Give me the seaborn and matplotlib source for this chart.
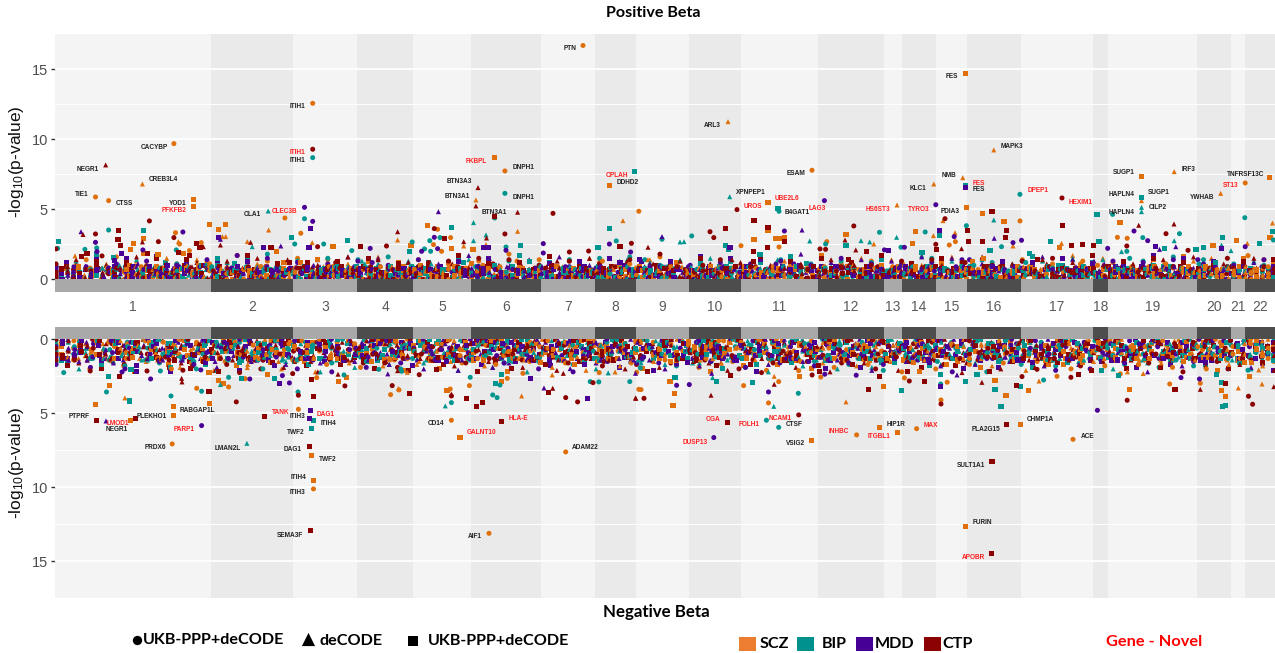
import numpy as np
import pandas as pd
import matplotlib
matplotlib.use("Agg")
import matplotlib.pyplot as plt
import seaborn as sns

# genome index runs from 55 to 1275 (genes in rank order, so chromosomes are not to physical scale)
chrom_names = [str(i) for i in range(1, 23)]
chrom_edges = [55, 211, 293, 357, 413, 471, 541, 595, 636, 689, 741, 818, 884, 902, 936, 967, 1021, 1093, 1108, 1197, 1231, 1245, 1275]

# (genome index, -log10 p), by trait and data source
top_scz_o = [(583,16.7),(312.7,12.57),(173.9,9.69),(95.5,5.88),(108.6,5.62),(284.9,4.38),(504.9,7.74),(638.8,4.86),(812,7.79),(1245.2,6.88),(1020,4.17),(300.8,3.29),(175.5,3.33),(179.6,2.52),(437.6,3.57),(450.6,2.98),(433.5,2.48),(441.6,2),(201.2,2.62),(189.4,2.05),(741,2.4),(826.8,2.69),(779,2.31),(955.4,2.69),(949.3,2.45),(1117.4,3),(1127.2,2.93),(1248,1.69)]
top_scz_s = [(193.9,5.67),(193.5,5.19),(494.3,8.69),(609.8,6.71),(965.6,14.71),(1141.5,7.36),(1269.7,7.29),(768,5.48),(966.8,5.1),(982.3,4.71),(1004,4.1),(1120,4.05),(768,3.52),(143.7,2.95),(133.9,2.55),(130.6,2.1),(144,1.86),(158,1.76),(183.3,1.86),(209.4,3.93),(218.4,3.57),(225.7,3.88),(276.3,2),(333,2.33),(411,2.4),(427.8,3.86),(451.8,2.17),(473,2.14),(754,2.86),(775.4,2.9),(781,2.88),(784.8,3),(846,3.17),(915.8,3.43),(912.6,2.55),(1059.5,2.29),(1213,2.38),(1236.6,2.74),(1270,3)]
top_scz_t = [(142.4,6.81),(475.9,5.67),(728,11.26),(993.8,9.24),(962.8,7.26),(1174.2,7.69),(933.8,6.81),(897,5.31),(943,4.19),(1141.5,5.62),(1220.7,6.14),(1272.5,4.02),(268.6,3.52),(622.9,4.19),(222.4,3.05),(225.7,3.05),(178.4,2.69),(75,1.67),(247.3,2.69),(312.2,2.62),(397.6,2.81),(463.7,2.38),(486,2.48),(517.6,3.43),(873.8,2.52),(955,3.33),(933.4,3.12),(1013,2.38),(1061.5,2.57),(1247.3,2.57)]
top_bip_o = [(312.7,8.69),(504.9,6.14),(304.5,4.33),(494.7,4.38),(1019.9,6.07),(779,4.86),(1112.6,4.64),(1244.8,4.4),(108.6,3.52),(57.6,2.21),(84.9,2.14),(96.7,2.24),(176.3,2.1),(294.7,2.52),(323.7,2.52),(351.8,2.05),(412.2,2.67),(429.8,2.76),(440,2.98),(424.5,2.17),(430.6,2),(506,2.31),(616.3,2.74),(691.7,3.1),(662,2.86),(825.6,2.52),(879.5,3.36),(901,2.29),(925.2,3.38),(966.4,3.83),(1001.5,2.33),(1126.8,2),(1142.8,2.98),(1179.5,3.26),(1273.4,2.81)]
top_bip_s = [(634.7,7.69),(965.6,6.71),(778,5.07),(1141.5,5.81),(1097,4.6),(143.3,3.52),(58.4,2.67),(96.3,1.81),(113.9,1.55),(291.4,3.02),(347.3,2.74),(409.4,2.02),(451.8,3.69),(520.4,2.4),(609.4,3.6),(598,2.29),(725.6,2.45),(728.9,2.14),(760,1.74),(846,2.43),(922,1.95),(939.5,3.1),(990,2.07),(1029.7,1.86),(1050.5,2.67),(1099,2.71),(1164.4,2.19),(1196,2.1),(1203.2,2.29),(1222.8,3.02),(1259.5,2.55),(1272.5,3.38)]
top_bip_t = [(268.2,4.88),(729.7,5.9),(473.5,4.05),(993.8,4.24),(1141.5,5.14),(1141.5,4.83),(252.2,2.33),(473.5,2.76),(486,3.17),(680,2.67),(684,2.69),(809.7,2.74),(861,2.76),(869.7,2.67),(896.6,3),(1121.5,1.98),(1174.2,2.76),(1221.5,2.45),(1231,2.05)]
top_mdd_o = [(304.5,5.14),(312.7,4.14),(824.4,5.62),(935.8,5.33),(95.5,2.64),(182.9,3.38),(142.9,2.1),(97,1.98),(370.2,2.21),(434.3,3),(421.6,2),(437.6,2.19),(543.3,2.55),(543.3,1.88),(506,2.07),(609.4,2.52),(630.6,1.95),(784.4,3.45),(884.4,2.1),(904.4,2.29),(954.2,3.05),(1013,2.62),(1021.5,2.79),(1107.7,2.21),(1134,3.45),(1147.7,2.76),(1245.2,2.33)]
top_mdd_s = [(965.6,6.55),(310.2,3.64),(121.2,1.81),(114.3,1.33),(218.4,3),(263.7,2.29),(309,2.29),(483.7,2.26),(488.2,2.29),(730,2.26),(939.5,3.52),(888.9,2.05),(1155.4,2.31),(1221.5,2.19)]
top_mdd_t = [(81,3.4),(438.4,4.83),(220.4,2.86),(280.8,2.38),(662,3.05),(802,3.52),(994.2,2.93),(1159.5,2.14),(1175.8,2.33)]
top_ctp_o = [(312.7,9.29),(149.4,4.17),(553,4.71),(737,4.98),(1062,5.81),(945,4.33),(95.5,3.24),(158.4,2.69),(173.9,2.98),(102,1.67),(55.9,2.17),(434.3,3.62),(504.9,3.24),(317.6,2.33),(386.5,2.38),(569.4,1.95),(588.6,2.02),(631.4,2.57),(710,3.4),(713.8,2.98),(853.8,3.81),(820,2.17),(825.6,2.14),(935.8,2.5),(1126.8,2.38),(1166,3.26),(1188,2.07)]
top_ctp_s = [(494.7,4.52),(992,4.83),(754,4.17),(768,3.7),(118.4,3.5),(118,2.86),(120.8,2.4),(81.6,1.62),(87,1.86),(147.8,1.86),(178.4,1.95),(189.4,1.71),(196.3,2.57),(200,2.24),(271,2.29),(360.8,2.33),(444.9,2.88),(620,2.31),(725.6,3.64),(753.4,1.98),(767.7,2.24),(784.8,2.67),(866.8,2),(936.2,2.1),(967.2,3.48),(968.9,2.69),(982.8,2.69),(1006.8,3.48),(1005.2,3),(1062.3,3.83),(1071.7,2.43),(1082.8,2.52),(1093.4,2.45)]
top_ctp_t = [(105.7,8.17),(478,6.55),(475.9,5.24),(517.6,4.79),(1062.3,3.88),(1138.7,3.86),(1174,3.95),(83,3.2),(142.4,2.67),(397.6,3.4),(203.3,2.33),(220.4,2.45),(250.6,2.64),(463.7,2.69),(486.5,2.95),(648,2.29),(845,2.81),(855.8,2.1),(961.5,2.19)]

bot_scz_o = [(172.2,7.07),(298.4,4.73),(313.5,10.11),(451.4,5.47),(489,13.11),(565.7,7.61),(856.6,6.46),(916.6,6.04),(1073,6.76),(196.7,3.31),(390.6,3.74),(399,3.42),(941,4.1),(768.5,4.3),(641,3.4),(171.4,2),(228.6,3.22),(245.3,2.66),(316.7,2.59),(450.2,3.36),(469.4,3.13),(507.3,2.64),(522.9,2.3),(599.2,2.25),(636.7,2.23),(638.8,3.38),(743.6,3.13),(778.7,2.86),(798.7,2.12),(820.7,2.55),(904.4,2.61),(947.2,2.9),(1057,2.5),(1120.3,2.34),(1169.7,3.02),(1200.3,2.97)]
bot_scz_s = [(130.2,5.52),(173.5,5.18),(173.5,4.57),(311.8,7.86),(313.5,9.55),(460,6.64),(811.7,6.82),(879.9,5.99),(897.9,6.28),(965.2,12.66),(1020.7,5.74),(95.9,4.39),(109.8,3.13),(209.4,4.37),(673,4.48),(674.6,3.67),(1006,3.78),(1028.5,3.49),(1129.7,3.42),(1221.5,3.45),(1225.6,3.85),(209,2.25),(218.8,2.77),(223.7,3),(267.3,2.41),(338.4,2.82),(346.1,2.57),(447,3.47),(501.6,2.86),(670,2.86),(799.5,2.52),(883.2,3.2),(919.9,2.21),(995,2.77),(1249.3,2.52)]
bot_scz_t = [(124.9,3.96),(398.4,3.33),(521.6,3.83),(846,4.23),(1238.3,3.29),(1262,3.02),(247.3,1.91),(407.3,2.23),(552.2,2.41),(615.1,2.21),(774.2,2.5),(1039,2.82),(1143.2,2.32),(1258.7,2.07)]
bot_bip_o = [(766.4,5.47),(778.7,5.95),(106.5,3.56),(171,3.83),(201.6,3.51),(298,3.56),(451.4,4.28),(798.3,3.65),(63.7,2.25),(160.4,2.14),(196.3,2),(228.6,2.57),(344,2.41),(378.8,2.03),(401.6,2.16),(470.2,2.57),(500,3.09),(492.7,3.76),(497.1,3.94),(590.2,2.86),(598.8,2.88),(629.8,2.86),(640.3,1.94),(940.7,3.02),(1043.6,2.75),(1248,2.09)]
bot_bip_s = [(313.5,5.47),(311.4,6.06),(129.8,4.17),(1001,4.55),(1222.3,4.53),(1225.2,4.46),(108.2,2.52),(131,2.03),(241.6,2.64),(274.3,2.68),(495.5,2.97),(501.2,2.41),(675,2.57),(716.2,2.88),(752.6,2.95),(901.5,3.49),(940.3,2.36),(965.2,2.88),(977,2.41),(995,3.36),(1020.7,3.18),(1118.7,2.45),(1216.6,2.36),(1221.5,2.91)]
bot_bip_t = [(246.9,7.03),(445.3,4.5),(773.8,4.53),(220.4,3.06),(608.2,2.27),(712.6,2.59)]
bot_mdd_o = [(201.6,5.83),(713.8,6.64),(1097.4,4.8),(768.5,3.56),(122,2.21),(150.6,2.68),(200.8,2.07),(249.8,2.68),(289.4,2.95),(282.4,2.45),(676.6,3.11),(689.3,3.06),(824.8,2.36),(856.2,2.43),(1181,2.59),(1199.5,2.68)]
bot_mdd_s = [(310.2,4.84),(309.4,5.32),(587.8,4.03),(136.7,2.21),(279.2,3),(530.6,2.66),(940.3,3.2)]
bot_mdd_t = [(106,5.52),(387.8,2.34),(544,3.29),(570.2,1.98),(635.5,2.3),(711.7,2.3),(957,2.41)]
bot_ctp_o = [(798.7,5.11),(236.3,4.23),(298.4,3.78),(344.9,3.15),(392.2,3.13),(451.4,3.83),(565.7,3.94),(577.6,4.23),(644,3.99),(941,4.37),(1127.2,4.12),(1248.5,3.85),(1252.6,4.39),(90.2,2.14),(147,2.14),(182.9,2.09),(239.6,2.25),(292.7,2.32),(419.2,2.39),(593,2.93),(761.5,2.25),(812.1,2.41),(909.3,2.82),(1022,2.52),(1037,2.03),(1070.9,2.57)]
bot_ctp_s = [(96.3,5.5),(135.9,5.38),(264.5,5.2),(309.4,7.25),(310.2,12.93),(501.6,5.56),(727.7,5.61),(991.3,14.46),(992,8.24),(1006.4,5.79),(209,3.56),(313.9,3.85),(409.4,3.69),(466.5,4.03),(476.7,4.57),(482.9,4.28),(548.2,3.6),(868.9,3.38),(1175,3.4),(119.2,2.52),(190.6,1.98),(218.8,2.18),(311.8,2.75),(436.3,2.07),(730.9,2.43),(819.5,2.18),(879.1,2.52),(907.7,2.21),(924.8,2.86),(1016.6,3.11),(1078.7,2.41),(1225.6,3)]
bot_ctp_t = [(181.6,2.64),(182,2.88),(451.4,3.7),(552.7,3.31),(635.5,3.96),(635.8,3.99),(711,3.78),(1200.3,3.38),(1273.8,3.2),(338,2.36),(397.6,2.12),(563.3,2.3),(774.2,3.04),(962,2.25),(981.9,2.91)]

# the band near zero is too dense to read point by point: hand estimated heights along
# the genome, one character per gene in tenths of -log10 p (a=1.0, b=1.1, ...)
top_band_scz = ["2051730628415092631748205a16384027519364028c17549362018473502917a6385014726093851d4702639158204736192580e36147025839164702831596407281395620714836092b571483602951740382619507483162950a7384160259371480263951849207315",
                "73916084257103968241057a3829160547382961c05473182906547132098657410238965b7102459380167429508361d2790436518207946315820749635108297463510829a7463150927846310592784f6310592874361059287431605928743b1609528473160952847",
                "4160927385016a4927385106492b378510649273851064e9273185064927318506492731850a649273815064927381560492738150649c273815604927381560d4927381564092738a1564092783154609278315460927831546b0927831546092783154609f27831546092",
                "a8ce9bg7da9fb8ec9ah8bd9cf7ae9b8dg9c7ea8bf9dc8ia7eb9d8fc7ab9eg8d7ca9fb8e7dc9ah8b9fd7ec8a9bg7df9c8ea7b9hd8fc9a7eb8gd9c7af8eb"]
top_band_bip = ["4172093685140273968152047a938160472591836402718593061b4827350916284730c195628403716952084731692508e47316295074831609257a4183602957148302695108473259160387214950268371594026a83751460293851720963841572c0936184502",
                "18305729461a8305792641830579264b183057926418305972641d8305972641830597264183a0597264138059726413805972e641380597264138059276413805b9276413805927641380592764138a05927641385092764138509276f4138509276413850927641385",
                "6294017385629401738c56294017a356294170385629417038569241703856924b1703856924170385d692417038569241703a85692417308569241730856e92417308569421730856942173a085694217308569c42173085694217308569421730856b9421730856942",
                "9bd8fa7ce9g8bd7afc8e9ib7dc8fa9e7bg8d9ca7fe8b9dh7ac8eb9f7dg8ca9e7bf8d9ac7eg8bf9da7ce8b9hf7da8ec9b7gd8af9ce7b8da9gf7ec8b9da7"]
top_band_mdd = ["6039184725061938274150629a384716025937481602953841706295138047269158304a7261950384172605938472c1605938417260193847526019b3847562019483752601947352806193745028619375048216937d504821693758042619375048261937",
                "27510946382751b09463827510946382571094638257a1094632857109463285710c94632857190463285719046328571904d63285719043628571904362857a1904362851790436285179043628e5179043268517904326851b79043268517904326851790432685",
                "9405172638940517263a8940517263894051762389405176238940c5176238940517623894f0517623894051672389405a1672389405167238940156723894b0156723894015672389401567238a940156723d89401567238940156723894015672e3894015672389",
                "8ca9e7bf9dg8ac7eb9hd8fa7c9eb8gd7fa9ce8b7dh9fa8ce7bg9da8fc7eb9d8ag7cf9be8d7ia9cf8eb7da9gc8fe7b9da8cg7fe9b8da7ch9ef8bd7a9ce8"]
top_band_ctp = ["1750294836172950468132795a0418639250718463925170846392051784639c25018746392051764839a2051764839205176b4839025176483902d571648390257164a8390275168439207516843920751684e3920751684392027516834920751683492075168",
                "3862401957386240195a7386240195738624019573862401c95738624109573862410957386b2410957386241095738624d109573862410a573862419057386241905738e624190573862419a05738624190573862b419057386241905738624190573862f41905738",
                "5097316824509731682450a97316824509731682c450973168245097136824509713b68245097136824509d7136824509713682a450971368245e09713682450971368245a097136824509713682c4509713682450917368245091736824b509173682450917368245",
                "b9e7da8cg9fb7ec8ad9hf7be8ca9dg7fe8bc9a7dh8fb9ec7ag8d9fb7ce8ai9d7fbe8c9ga7db8fe9c7ah8db9ef7c8ga9bd7ef8c9ha7db8fe9cg7ab8df9e"]
bot_band_scz = ["3a714b82c05936d17e2840b693c5172a846019b35d7204c8a165930e72b4816c3a057d92416b80c3759a2e461b0738d5c926a41f083b75d1926c4a0837b5e1926d4a08375c1b94e6a2807c35d9146b0a8372c5e91d64b0837a2c5d961e4b08a37c52d96g14b08",
                "92c60b7a3e41d85029c6b07a3e14d85902c6b70a3e14d8592c06b7a03e14d8f592c06b7a3e0148d592c06b7ga3e0148d59c206b7a3e0184d59c206b7a3e018d459c260b7a3e018d49c5260b7a3e018d49c5260b7ae30h18d49c5260b7ae3018d4c95260b7ae3018d4",
                "b50e83a172d69c40b5e83a1726d9c40b5e83a1f726d9c04b5e83a1726dc904b5e83a1726dc9g04b5e83a1762dc904b5e83a1762dc09b45e83a1762dc09b4e583a1762dc09b4e583a7162dc09b4e5h83a7162dc09b4e583a7162d0c9b4e583a7162d0c9b4e58a37162",
                "fhdkgeimfdhjgelfihdgkefmhdgjfielhdkfgeihmdfgjehlfdigkfehdjmgfielhdfkgjeihdfmgekhfdjigelfhdkgfiemhdgjfeklhdgif"]
bot_band_bip = ["8b2506d37c19a4e62083b5c7a194d6208e3b75c1a94d26083b7f5c1a946d2083b7c5e1a9642d083b75c1a9e6d42083b7c51a96d4g2083b75c1a96e4d2083b7c51a964d2e083b7c51f9a64d2083b75c1a96e4d2083b75c1a964d2083eb75c1a964d2083b7",
                "1d7a39c06e4b2851d7a39c0e64b2851d7a3c90e64b285d17a3c90e6b4285d17a3c9e06b4285d1f7a3c9e06b4285d7a13c9e06b425d87a13c9e0b6425d87a1c39e0b6425d87ag1c39e0b6425d8a71c39e0b6425d8a71c3e90b6425d8a71c3e9b06425d8a71c3e9b",
                "4e0a96c1d73b528e40a96c1d73b5284e0a9c61d7f3b5284e0a9c61d73b5284ea09c61d73b528e4a09c61d37b528e4a09c6g1d37b528e4a096c1d37b5284ea096c1d3b75284ea096c1d3b75284e0a96c1d3b7528e40a96c1d3b7582e40a96c1d3b7582e40a96c1",
                "gekdhfimegjdfhlegdkifehmgdjfehkigdflehjgdmfiehgkdjfelhidgfkejhmdgifekhdjlgfeihdkgmfehjdigfelkhdgjfeihmdgkfe"]
bot_band_mdd = ["5d0a72c4918e63b05d7a2c4918f63b05d7a2c49186e3b05d7a2c4918b63e05d7a2c49186b3g05d7a2c49186b3e05d7a2c4918b63d05e7a2c49186b305d7f2c49a186b3e05d72c49a186b305e7d2c49a186b305d72e49a186c3b05d7a2c4e9186b305d7a2",
                "c06b9e3a71d4285c06b9e3a71d4258c06be93a71d42f58c06be93a17d4258c06be93a17d4285c06e9b3a17d4285c0g6e9b3a17d2485c0e69b3a17d2485c0e69b3a172d485c0e96b3a172d485c0e96b3a71d2485c0e96ba371d2485c0e96ba371d248",
                "a3e7150bd926c84a3e7150bd92c684a3e7510bd92c684ae37510bd92c648ae37510db92c648ae3751f0db92c648ae375g10db92c648ae37150db2c9648ae37150db2c9648a3e7150db2c9684a3e7150db2c9684a3e7105db2c9684a3e7105db2c96",
                "hdfjegkidfmehgjdlfeihkdgmefjdhgikefldhjgfekidmhgfjedlkhgifdejmhgdfikegjlhdfegimkhdjfegildhkfegjmdhifgekdjhl"]
bot_band_ctp = ["a27c5b038e14d69a27c5b0f3814d6e9a27c5b03814d69ea27c5b03g14d69a2e7c5b03814d69a27ec5b03814d69fa27c5b03814ed69a27c5b03814d69a2e7c5b03g14d69a27c5eb03814d69a27c5b0f3814d69a27c5e03814bd69a27c5b03814d69ea27c5b",
                "6c1e840a3d97b256c1e840a3d9b7256c1e84a03d9b7256c18e4a03d9b7265c18e4a03df9b7265c18e4a0d39b7265c18ea40d39b7g265c18ea40d39b2765c18ea4d039b2765c1e8a4d039b2765c1e8a4d03b92765c1e8a4d03b9276c51e8a4d03b92",
                "0b8d4e61a37c920b8d4e61a3c7920b8de461a3c79f20b8de461ac37920b8de41a6c37920b8de41a6c39720bd8e41a6c39720bd8e41ag6c39720bd8e14a6c39720bd8e14a6c3972b0d8e14a6c3972b0d8e14ac63972b0de814ac63972b0de814ac6397",
                "eigdkfhmdejgiflhdekgjfimdhegkfjldehigmfdkjehlgfdiekhmjgdfeilkhdgejfimdhgkelfjdhigemkfdjhgeilfdkhgjemdifkhegl"]

# gene labels: (gene, genome index, -log10 p)
top_known = [("PTN",570,16.45),("ITIH1",298,12.33),("CACYBP",153.9,9.38),("NEGR1",87.8,7.86),("ITIH1",297.5,8.45),("CREB3L4",163.3,7.1),("TIE1",81.6,6.07),("CTSS",124,5.38),("YOD1",178,5.43),("OLA1",252.2,4.62),("DNPH1",523.3,8.02),("BTN3A3",459.2,6.98),("BTN3A1",457.1,5.9),("DNPH1",523.3,5.86),("BTN3A1",494.7,4.79),("DDHD2",627.8,6.95),("FES",952,14.52),("ARL3",712.6,11),("MAPK3",1011.7,9.48),("ESAM",795.8,7.55),("NMB",948.9,7.43),("SUGP1",1123.6,7.6),("IRF3",1188.5,7.86),("TNFRSF13C",1245.2,7.5),("KLC1",918.3,6.52),("FES",978.7,6.4),("XPNPEP1",750.9,6.17),("B4GAT1",797,4.76),("PDIA3",950.5,4.86),("HAPLN4",1121.5,6.05),("SUGP1",1158.7,6.19),("CILP2",1157.4,5.12),("HAPLN4",1121.5,4.79),("YWHAB",1202,5.83)]
top_novel = [("ITIH1",298,9.05),("PFKFB2",174.3,4.88),("CLEC3B",284.9,4.83),("FKBPL",476.7,8.4),("OPLAH",616.7,7.4),("ST13",1230.5,6.67),("FES",979,6.82),("DPEP1",1037.9,6.31),("UBE2L6",787.2,5.76),("UROS",752.6,5.19),("LAG3",817.4,5.05),("HS6ST3",877.9,4.98),("TYRO3",918.3,5.02),("HEXIM1",1080.7,5.52)]
bot_known = [("PTPRF",78.8,5.25),("NEGR1",116.7,6.1),("PLEKHO1",151.4,5.2),("RABGAP1L",197.6,4.82),("PRDX6",155,7.34),("LMAN2L",227.8,7.36),("ITIH3",298,5.2),("ITIH4",328.6,5.72),("TWF2",295.9,6.31),("DAG1",293,7.48),("TWF2",327.8,8.11),("ITIH4",298.8,9.32),("ITIH3",298,10.34),("SEMA3F",290.2,13.24),("CD14",436.3,5.72),("AIF1",474.7,13.33),("ADAM22",585.7,7.34),("CTSF",794.2,5.74),("VSIG2",795.4,7.07),("HIP1R",896.2,5.77),("PLA2G15",985.6,6.1),("CHMP1A",1040.7,5.45),("ACE",1087.2,6.58),("SULT1A1",971.3,8.56),("FURIN",982.3,12.39)]
bot_novel = [("LMOD1",117.6,5.68),("PARP1",184,6.1),("TANK",280.4,4.98),("DAG1",325.7,5.09),("GALNT10",481.6,6.33),("HLA-E",518.4,5.32),("OGA",713,5.41),("DUSP13",695,6.96),("FOLH1",748.9,5.74),("NCAM1",780.3,5.38),("INHBC",839,6.22),("ITGBL1",879,6.58),("MAX",931,5.81),("APOBR",973,14.73)]

trait_colors = {"SCZ": "#DF6F0A", "BIP": "#00968F", "MDD": "#4B0095", "CTP": "#8B0000"}
legend_colors = ["#ED7D31", "#00918D", "#460096", "#8B0000"]
shape_markers = {"o": "o", "s": "s", "^": "^"}


def make_frame(groups, bands):
    rows = []
    for trait, strings in bands.items():
        for s in strings:
            xs = np.linspace(56, 1274, len(s))
            for i, c in enumerate(s):
                rows.append((xs[i], int(c, 36) / 10, trait, "os^"[i % 3]))
    rows.sort(key=lambda r: r[0])
    hits = []
    for trait, shape, pts in groups:
        for x, y in pts:
            hits.append((x, y, trait, shape))
    return pd.DataFrame(rows + hits, columns=["x", "y", "trait", "shape"])


top_df = make_frame(
    [("SCZ", "o", top_scz_o), ("SCZ", "s", top_scz_s), ("SCZ", "^", top_scz_t),
     ("BIP", "o", top_bip_o), ("BIP", "s", top_bip_s), ("BIP", "^", top_bip_t),
     ("MDD", "o", top_mdd_o), ("MDD", "s", top_mdd_s), ("MDD", "^", top_mdd_t),
     ("CTP", "o", top_ctp_o), ("CTP", "s", top_ctp_s), ("CTP", "^", top_ctp_t)],
    {"SCZ": top_band_scz, "BIP": top_band_bip, "MDD": top_band_mdd, "CTP": top_band_ctp})
bot_df = make_frame(
    [("SCZ", "o", bot_scz_o), ("SCZ", "s", bot_scz_s), ("SCZ", "^", bot_scz_t),
     ("BIP", "o", bot_bip_o), ("BIP", "s", bot_bip_s), ("BIP", "^", bot_bip_t),
     ("MDD", "o", bot_mdd_o), ("MDD", "s", bot_mdd_s), ("MDD", "^", bot_mdd_t),
     ("CTP", "o", bot_ctp_o), ("CTP", "s", bot_ctp_s), ("CTP", "^", bot_ctp_t)],
    {"SCZ": bot_band_scz, "BIP": bot_band_bip, "MDD": bot_band_mdd, "CTP": bot_band_ctp})

sns.set_theme(style="white")
plt.rcParams["font.family"] = ["Liberation Sans", "DejaVu Sans"]
plt.rcParams["mathtext.default"] = "regular"

W, H = 1275, 653
fig = plt.figure(figsize=(W / 100, H / 100), dpi=100)


def add_axes_px(left, top, right, bottom):
    return fig.add_axes([left / W, 1 - bottom / H, (right - left) / W, (bottom - top) / H])


ax_top = add_axes_px(55, 34, 1275, 291.5)
ax_bot = add_axes_px(55, 326.7, 1275, 598.3)
ax_top.set_ylim(-0.87, 17.52)
ax_bot.set_ylim(17.5, -0.85)

for ax, df, known, novel in [(ax_top, top_df, top_known, top_novel), (ax_bot, bot_df, bot_known, bot_novel)]:
    strip_end = ax.get_ylim()[0] if ax is ax_top else ax.get_ylim()[1]
    for i in range(len(chrom_names)):
        ax.axvspan(chrom_edges[i], chrom_edges[i + 1], color="#F4F4F4" if i % 2 == 0 else "#EAEAEA", lw=0, zorder=0)
        ax.fill_between([chrom_edges[i], chrom_edges[i + 1]], 0, strip_end,
                        color="#A9A9A9" if i % 2 == 0 else "#4D4D4D", lw=0, zorder=4)
    for v in [5, 10, 15]:
        ax.axhline(v, color="white", lw=1.3, zorder=1)
    for v in [2.5, 7.5, 12.5]:
        ax.axhline(v, color="white", lw=0.7, zorder=1)
    sns.scatterplot(data=df, x="x", y="y", hue="trait", style="shape", palette=trait_colors,
                    markers=shape_markers, s=13, linewidth=0, legend=False, zorder=3, ax=ax)
    for gene, x, y in known:
        ax.text(x, y, gene, fontsize=4.7, fontweight="bold", color="#222222", ha="center", va="center", zorder=5)
    for gene, x, y in novel:
        ax.text(x, y, gene, fontsize=4.7, fontweight="bold", color="#FF2020", ha="center", va="center", zorder=5)
    ax.set_xlim(55, 1275)
    ax.set_yticks([0, 5, 10, 15])
    ax.tick_params(axis="y", length=3, width=1, color="#333333", labelcolor="#4D4D4D", labelsize=10.5, pad=2, left=True)
    ax.set_xlabel("")
    ax.set_ylabel("")
    sns.despine(ax=ax, left=True, bottom=True)

centers = [(chrom_edges[i] + chrom_edges[i + 1]) / 2 for i in range(len(chrom_names))]
ax_top.set_xticks(centers, labels=chrom_names)
ax_top.tick_params(axis="x", length=0, labelcolor="#5A5A5A", labelsize=10, pad=6)
ax_bot.set_xticks([])

# titles and hand-placed legend on an overlay in pixel units
ov = fig.add_axes([0, 0, 1, 1], facecolor="none")
ov.set_xlim(0, W)
ov.set_ylim(H, 0)
ov.axis("off")
head = dict(family=["Lato", "DejaVu Sans"], fontweight="bold", color="black", va="center")
ov.text(653, 13, "Positive Beta", ha="center", fontsize=11.6, **head)
ov.text(656, 612, "Negative Beta", ha="center", fontsize=12.2, **head)
ov.text(17, 162, "-log$_{10}$(p-value)", rotation=90, ha="center", va="center", fontsize=12.5, color="#111111")
ov.text(17, 463, "-log$_{10}$(p-value)", rotation=90, ha="center", va="center", fontsize=12.5, color="#111111")

ov.scatter([137], [640], marker="o", s=45, color="black", lw=0)
ov.text(143, 640, "UKB-PPP+deCODE", ha="left", fontsize=11.6, **head)
ov.scatter([308], [639], marker="^", s=90, color="black", lw=0)
ov.text(319, 641, "deCODE", ha="left", fontsize=11.6, **head)
ov.scatter([413], [641], marker="s", s=60, color="black", lw=0)
ov.text(428, 641, "UKB-PPP+deCODE", ha="left", fontsize=11.6, **head)

for left, c, name, tx in zip([739, 797, 856, 924], legend_colors, ["SCZ", "BIP", "MDD", "CTP"], [760, 822, 875, 942]):
    ov.fill_between([left, left + 17], 637, 651, color=c, lw=0)
    ov.text(tx, 644, name, ha="left", fontsize=11.6, **head)
ov.text(1106, 642, "Gene - Novel", ha="left", fontsize=11.8, family=["Lato", "DejaVu Sans"],
        fontweight="bold", color="#FF0000", va="center")

fig.savefig("out.png", dpi=100)
